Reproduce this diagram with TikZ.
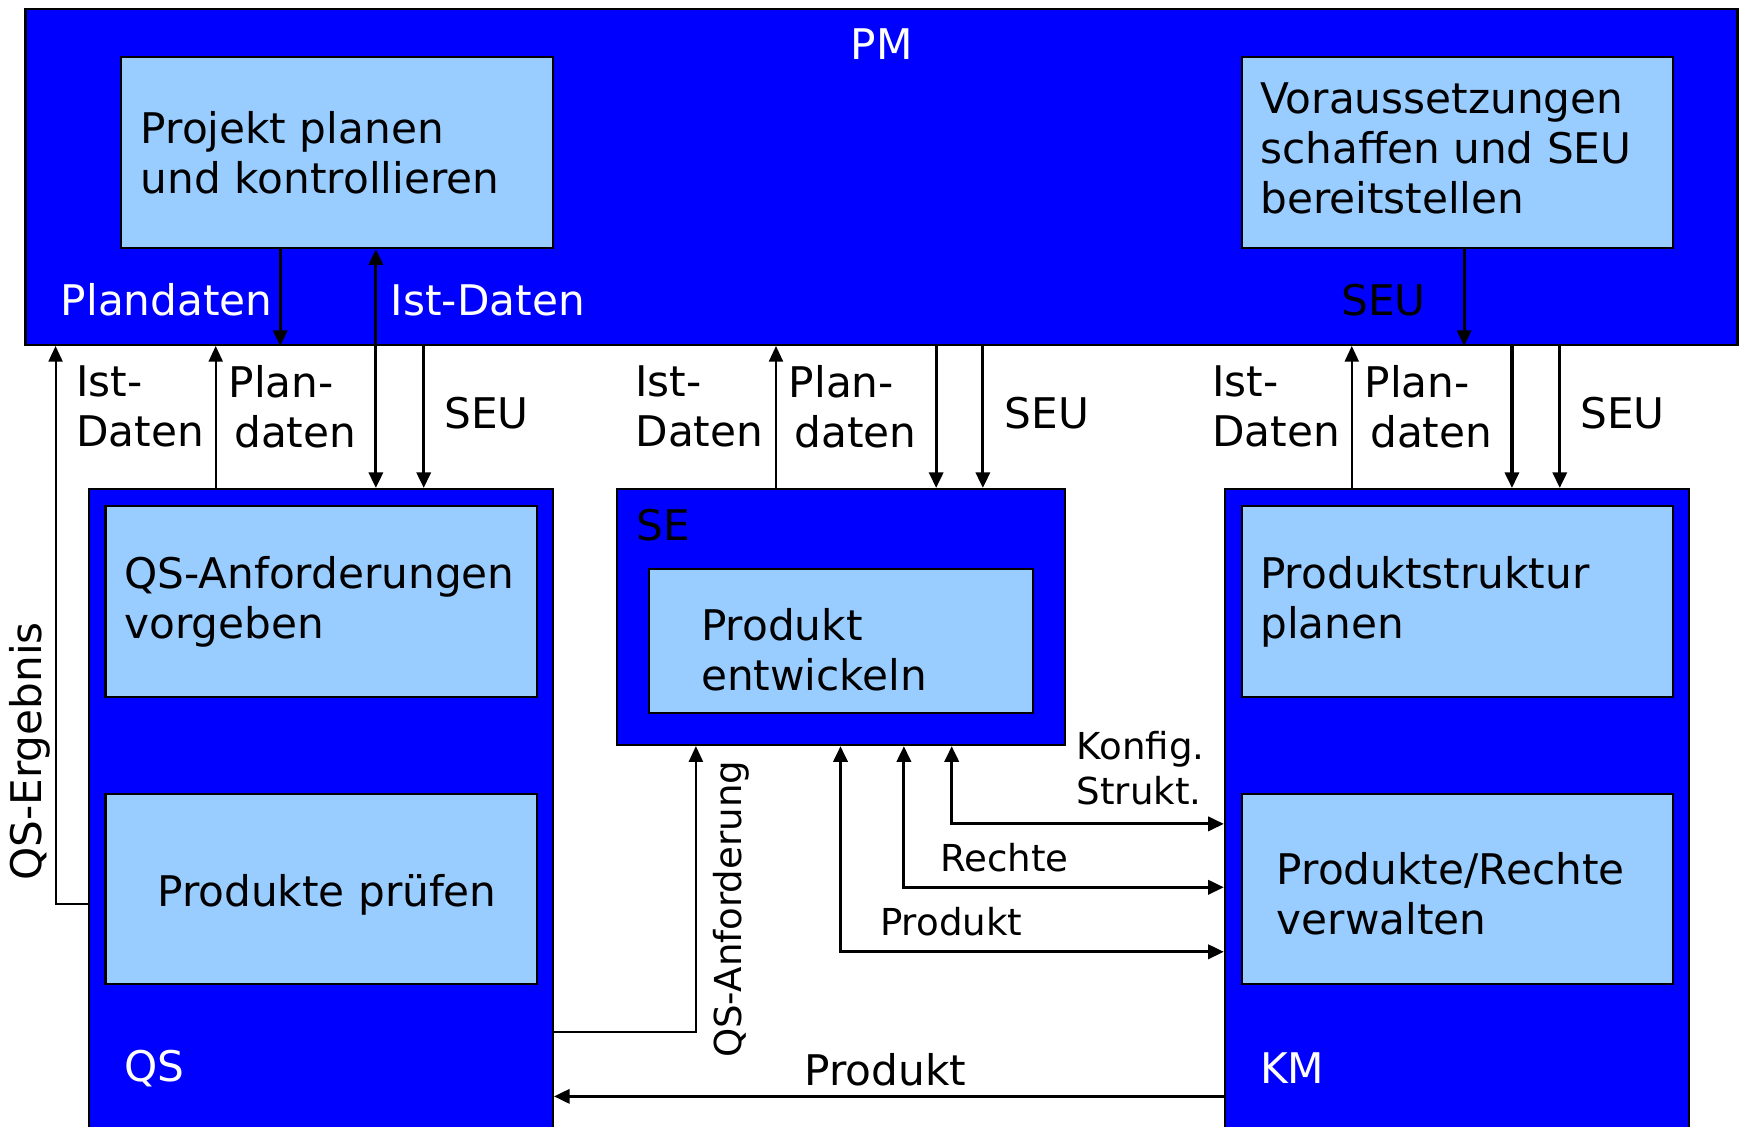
\documentclass[tikz,border=0pt]{standalone}
\usepackage{fontspec}
\setmainfont{DejaVu Sans}
\usetikzlibrary{arrows.meta}
\definecolor{procblue}{RGB}{0,0,255}
\definecolor{taskblue}{HTML}{99CCFF}
\tikzset{
  unitbox/.style={draw=black, line width=0.6pt, fill=procblue, inner sep=0pt, anchor=north west},
  taskbox/.style={draw=black, line width=0.6pt, fill=taskblue, inner sep=0pt, anchor=north west,
                  minimum width=3.88cm, minimum height=1.72cm},
  txt/.style={inner sep=0pt, align=left, font=\fontsize{10.8}{12.8}\selectfont},
  lbl/.style={inner sep=0pt, align=left, font=\fontsize{9.5}{11.4}\selectfont},
  tip/.tip={Triangle[length=4pt,width=3.6pt]},
  flowarr/.style={line width=0.8pt, -tip},
  flowthin/.style={line width=0.5pt, -tip},
  flowboth/.style={line width=0.8pt, tip-tip},
}
\begin{document}
\begin{tikzpicture}[x=0.01cm, y=-0.01cm]
\useasboundingbox (0,0) rectangle (1568,1013);
\clip (0,0) rectangle (1568,1013);
\fill[white] (0,0) rectangle (1568,1013);

% organisational units and their tasks
\node[unitbox, minimum width=15.39cm, minimum height=3.02cm] (pm) at (22,7) {};
\node[taskbox] (plan) at (108,50) {};
\node[taskbox] (vor) at (1116,50) {};

\node[unitbox, minimum width=4.17cm, minimum height=6.2cm] (qs) at (79,439) {};
\node[taskbox] (qsa) at (94,454) {};
\node[taskbox, minimum height=1.71cm] (pruef) at (94,713) {};

\node[unitbox, minimum width=4.03cm, minimum height=2.30cm] (se) at (554,439) {};
\node[taskbox, minimum width=3.45cm, minimum height=1.29cm] (entw) at (583,511) {};

\node[unitbox, minimum width=4.17cm, minimum height=6.2cm] (km) at (1101,439) {};
\node[taskbox] (struk) at (1116,454) {};
\node[taskbox, minimum height=1.71cm] (verw) at (1116,713) {};

% task texts
\node[txt, anchor=west] (planT) at ([xshift=0.18cm]plan.west) {Projekt planen\\und kontrollieren};
\node[txt, anchor=west] (vorT) at ([xshift=0.17cm,yshift=0.04cm]vor.west) {Voraussetzungen\\schaffen und SEU\\bereitstellen};
\node[txt, anchor=west] (qsaT) at ([xshift=0.17cm]qsa.west) {QS-Anforderungen\\vorgeben};
\node[txt] (pruefT) at ([xshift=0.05cm,yshift=-0.05cm]pruef.center) {Produkte prüfen};
\node[txt, anchor=west] (entwT) at ([xshift=0.47cm,yshift=-0.08cm]entw.west) {Produkt\\entwickeln};
\node[txt, anchor=west] (strukT) at ([xshift=0.17cm]struk.west) {Produktstruktur\\planen};
\node[txt, anchor=west] (verwT) at ([xshift=0.32cm,yshift=-0.04cm]verw.west) {Produkte/Rechte\\verwalten};

% unit names
\node[txt, text=white] (pmL) at ([yshift=-0.33cm]pm.north) {PM};
\node[txt, anchor=west] (seL) at (572,472) {SE};
\node[txt, anchor=west, text=white] (qsL) at (111,961) {QS};
\node[txt, anchor=west, text=white] (kmL) at (1133,961) {KM};

% flows inside PM
\coordinate (pdA) at ([xshift=1.44cm]plan.south west);
\draw[flowarr] (pdA) -- (pdA |- pm.south);
\coordinate (seuV) at ([xshift=2.01cm]vor.south west);
\draw[flowarr] (seuV) -- (seuV |- pm.south);
\node[txt, anchor=west, text=white] (plandL) at (54,270) {Plandaten};
\node[txt, anchor=west, text=white] (istL) at (351,270) {Ist-Daten};
\node[txt, anchor=west] (seuPm) at (1206,270) {SEU};

% QS <-> PM
\coordinate (qsPlan) at ([xshift=1.15cm]qs.north west);
\draw[flowthin] (qsPlan) -- (qsPlan |- pm.south);
\coordinate (qsIst) at ([xshift=2.59cm]qs.north west);
\draw[flowboth] (qsIst |- plan.south) -- (qsIst);
\coordinate (qsSeu) at ([xshift=3.02cm]qs.north west);
\draw[flowarr] (qsSeu |- pm.south) -- (qsSeu);
\coordinate (qeA) at ([yshift=-3.74cm]qs.north west);
\coordinate (qeB) at ([xshift=-0.29cm]qeA);
\draw[flowthin] (qeA) -- (qeB) -- (qeB |- pm.south);

% SE <-> PM
\coordinate (sePlan) at ([xshift=1.44cm]se.north west);
\draw[flowthin] (sePlan) -- (sePlan |- pm.south);
\coordinate (seD1) at ([xshift=2.88cm]se.north west);
\draw[flowarr] (seD1 |- pm.south) -- (seD1);
\coordinate (seD2) at ([xshift=3.30cm]se.north west);
\draw[flowarr] (seD2 |- pm.south) -- (seD2);

% KM <-> PM
\coordinate (kmPlan) at ([xshift=1.15cm]km.north west);
\draw[flowthin] (kmPlan) -- (kmPlan |- pm.south);
\coordinate (kmD1) at ([xshift=2.59cm]km.north west);
\draw[flowarr] (kmD1 |- pm.south) -- (kmD1);
\coordinate (kmD2) at ([xshift=3.02cm]km.north west);
\draw[flowarr] (kmD2 |- pm.south) -- (kmD2);

% labels between PM and the units
\node[txt, anchor=west] (istQ) at (68,365.5) {Ist-\\Daten};
\node[txt, anchor=west] (planQ) at (205,365.5) {Plan-\\\hspace*{0.05cm}daten};
\node[txt, anchor=west] (seuQ) at (399,372) {SEU};
\node[txt, anchor=west] (istS) at (571,365.5) {Ist-\\Daten};
\node[txt, anchor=west] (planS) at (709,365.5) {Plan-\\\hspace*{0.05cm}daten};
\node[txt, anchor=west] (seuS) at (903,372) {SEU};
\node[txt, anchor=west] (istK) at (1090,365.5) {Ist-\\Daten};
\node[txt, anchor=west] (planK) at (1227,365.5) {Plan-\\\hspace*{0.05cm}daten};
\node[txt, anchor=west] (seuK) at (1421,372) {SEU};

% SE <-> KM
\coordinate (kfA) at ([xshift=3.02cm]se.south west);
\coordinate (kfB) at ([yshift=-3.02cm]km.north west);
\draw[flowboth] (kfA) |- (kfB);
\coordinate (reA) at ([xshift=2.59cm]se.south west);
\coordinate (reB) at ([yshift=-3.59cm]km.north west);
\draw[flowboth] (reA) |- (reB);
\coordinate (prA) at ([xshift=2.02cm]se.south west);
\coordinate (prB) at ([yshift=-4.17cm]km.north west);
\draw[flowboth] (prA) |- (prB);
\node[lbl, anchor=west] (kfL) at (968,691) {Konfig.\\Strukt.};
\node[lbl, anchor=west] (reL) at (845,772) {Rechte};
\node[lbl, anchor=west] (prL) at (791,829) {Produkt};

% QS -> SE
\coordinate (qaA) at ([yshift=-4.89cm]qs.north east);
\coordinate (qaB) at ([xshift=0.72cm]se.south west);
\draw[flowthin] (qaA) -| (qaB);

% KM -> QS
\coordinate (kqA) at ([yshift=-5.47cm]km.north west);
\draw[flowarr] (kqA) -- (kqA -| qs.east);
\node[txt, anchor=west] (kqL) at (723,962) {Produkt};

% rotated labels
\node[txt, rotate=90] (qsErg) at (27,676) {QS-Ergebnis};
\node[lbl, rotate=90] (qsAnf) at (658,818) {QS-Anforderung};
\end{tikzpicture}
\end{document}
